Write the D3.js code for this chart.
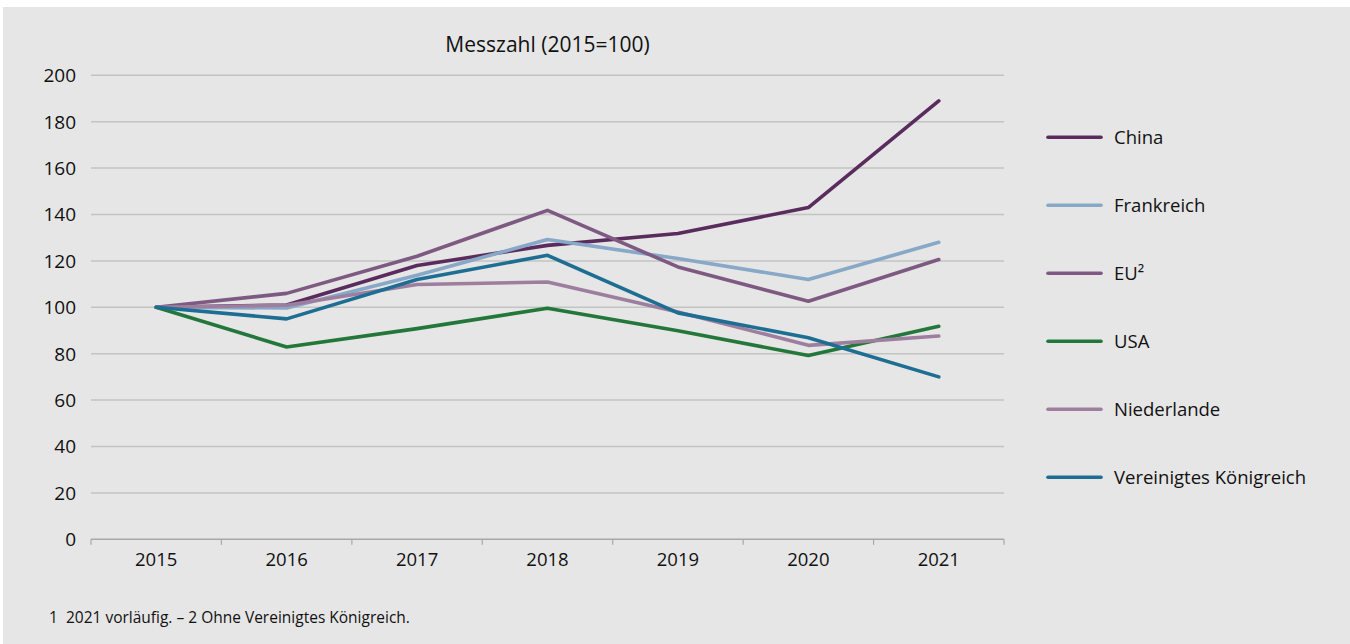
<!DOCTYPE html>
<html>
<head>
<meta charset="utf-8">
<script src="https://cdn.jsdelivr.net/npm/d3@7"></script>
<style>
  html, body { margin: 0; padding: 0; background: #ffffff; }
  svg { display: block; }
  text { font-family: "Open Sans", "Noto Sans", sans-serif; fill: #111111; }
</style>
</head>
<body>
<svg id="chart" width="1350" height="644"></svg>
<script>
// ---- data ----
const years = ["2015", "2016", "2017", "2018", "2019", "2020", "2021"];
const seriesNames = ["China", "Frankreich", "EU²", "USA", "Niederlande", "Vereinigtes Königreich"];
const china       = [100, 101, 118, 126.7, 131.8, 143, 189];
const frankreich  = [100, 99.7, 113.8, 129.2, 121, 112, 128];
const eu          = [100, 106, 122, 141.8, 117.4, 102.6, 120.6];
const usa         = [100, 82.9, 90.8, 99.6, 89.9, 79.2, 91.8];
const niederlande = [100, 100.9, 109.8, 110.9, 98, 83.6, 87.6];
const uk          = [100, 95, 112, 122.4, 97.6, 86.9, 70];
const yTicks = [0, 20, 40, 60, 80, 100, 120, 140, 160, 180, 200];
const titleText = "Messzahl (2015=100)";
const footnoteText = "1  2021 vorläufig. – 2 Ohne Vereinigtes Königreich.";

const seriesValues = [china, frankreich, eu, usa, niederlande, uk];
const colors = ["#5a2c5e", "#87a8c7", "#7e5a83", "#23773a", "#9d7e9f", "#1d6e92"];

// ---- layout ----
const svg = d3.select("#chart");
svg.append("rect").attr("x", 3).attr("y", 7).attr("width", 1347).attr("height", 637).attr("fill", "#e6e6e6");

const x = d3.scaleBand().domain(years).range([91, 1004]).padding(0);
const y = d3.scaleLinear().domain([0, 200]).range([539.3, 75.3]);

// gridlines
svg.append("g").selectAll("line").data(yTicks.filter(d => d > 0)).join("line")
  .attr("x1", 91).attr("x2", 1004)
  .attr("y1", d => y(d)).attr("y2", d => y(d))
  .attr("stroke", "#c3c3c3").attr("stroke-width", 1.5);

// y labels
svg.append("g").selectAll("text").data(yTicks).join("text")
  .attr("x", 76).attr("y", d => y(d)).attr("dy", "0.36em")
  .attr("text-anchor", "end").attr("font-size", 19).text(d => d);

// x axis
const xAxis = svg.append("g").attr("transform", `translate(0,${y(0)})`);
xAxis.append("line").attr("x1", 91).attr("x2", 1004).attr("y1", 0).attr("y2", 0)
  .attr("stroke", "#a8a8a8").attr("stroke-width", 1.5);
const edges = years.map(d => x(d)).concat([x(years[years.length - 1]) + x.bandwidth()]);
xAxis.selectAll("line.tick").data(edges).join("line").attr("class", "tick")
  .attr("x1", d => d).attr("x2", d => d).attr("y1", 0).attr("y2", 5.5)
  .attr("stroke", "#a8a8a8").attr("stroke-width", 1.2);
xAxis.selectAll("text").data(years).join("text")
  .attr("x", d => x(d) + x.bandwidth() / 2).attr("y", 27)
  .attr("text-anchor", "middle").attr("font-size", 18.5).text(d => d);

// lines
const line = d3.line().x((d, i) => x(years[i]) + x.bandwidth() / 2).y(d => y(d));
svg.append("g").selectAll("path").data(seriesValues).join("path")
  .attr("d", d => line(d)).attr("fill", "none")
  .attr("stroke", (d, i) => colors[i]).attr("stroke-width", 3.6)
  .attr("stroke-linejoin", "round").attr("stroke-linecap", "round");

// title
svg.append("text").attr("x", 547.5).attr("y", 52).attr("text-anchor", "middle")
  .attr("font-size", 21).text(titleText);

// legend
const lg = svg.append("g").selectAll("g").data(seriesNames).join("g")
  .attr("transform", (d, i) => `translate(0,${137.3 + i * 68})`);
lg.append("line").attr("x1", 1048).attr("x2", 1101).attr("y1", 0).attr("y2", 0)
  .attr("stroke", (d, i) => colors[i]).attr("stroke-width", 3.6).attr("stroke-linecap", "round");
lg.append("text").attr("x", 1114).attr("y", 0).attr("dy", "0.36em")
  .attr("font-size", 18.5).text(d => d);

// footnote
svg.append("text").attr("x", 49).attr("y", 623).attr("font-size", 15.5)
  .attr("xml:space", "preserve").style("white-space", "pre").text(footnoteText);
</script>
</body>
</html>
